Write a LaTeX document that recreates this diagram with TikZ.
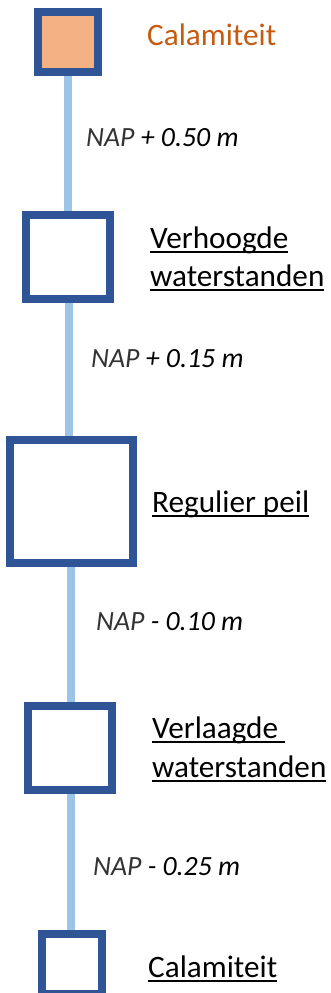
\documentclass[tikz,border=0pt]{standalone}
\usepackage{fontspec}
\setmainfont{Carlito}
\usetikzlibrary{backgrounds}
\definecolor{boxblue}{HTML}{2F5597}
\definecolor{boxfill}{HTML}{F4B183}
\definecolor{linkblue}{HTML}{9DC3E6}
\definecolor{calorange}{HTML}{C55A11}
\newcommand\myul[1]{{\setbox0\hbox{#1}\rlap{\rule[-4.6pt]{\wd0}{1.5pt}}\box0}}
\newcommand\naptext[2]{{\color{black!80}NAP} #1 #2}
\begin{document}
\begin{tikzpicture}[x=1pt,y=-1pt,
  levelbox/.style={draw=boxblue,line width=8pt,fill=white,rectangle,inner sep=0pt},
  conn/.style={draw=linkblue,line width=8pt},
  title/.style={anchor=base west,inner sep=0pt,font=\fontsize{31.2}{36}\selectfont},
  naplabel/.style={anchor=base west,inner sep=0pt,font=\fontsize{27.8}{32}\selectfont\itshape}]
\useasboundingbox (0,0) rectangle (331,993);
\clip (0,0) rectangle (331,993);
\node[levelbox,fill=boxfill,minimum size=60pt] (b1) at (68,42) {};
\node[levelbox,minimum size=84pt] (b2) at (67.5,257) {};
\node[levelbox,minimum size=123pt] (b3) at (71,501) {};
\node[levelbox,minimum size=84pt] (b4) at (69.5,748) {};
\node[levelbox,minimum size=60pt] (b5) at (72,964) {};
\begin{scope}[on background layer]
\draw[conn] (b1.center) -- (b1.center |- b2.center);
\draw[conn] ([xshift=1pt]b2.center) -- ([xshift=1pt]b2.center |- b3.center);
\draw[conn] (b3.center) -- (b3.center |- b4.center);
\draw[conn] ([xshift=1.5pt]b4.center) -- ([xshift=1.5pt]b4.center |- b5.center);
\end{scope}
\node[title,text=calorange] (t1) at (147,45) {Calamiteit};
\node[naplabel] (n1) at (86,146) {\naptext{+}{0.50 m}};
\node[title] (t2a) at (150,248) {\myul{Verhoogde}};
\node[title] (t2b) at (150,286) {\myul{waterstanden}};
\node[naplabel] (n2) at (91,367) {\naptext{+}{0.15 m}};
\node[title] (t3) at (152,512) {\myul{Regulier peil}};
\node[naplabel] (n3) at (96,630) {\naptext{-}{0.10 m}};
\node[title] (t4a) at (152,738) {\myul{Verlaagde\ }};
\node[title] (t4b) at (152,777) {\myul{waterstanden}};
\node[naplabel] (n4) at (93,875) {\naptext{-}{0.25 m}};
\node[title] (t5) at (148,977) {\myul{Calamiteit}};
\end{tikzpicture}
\end{document}
